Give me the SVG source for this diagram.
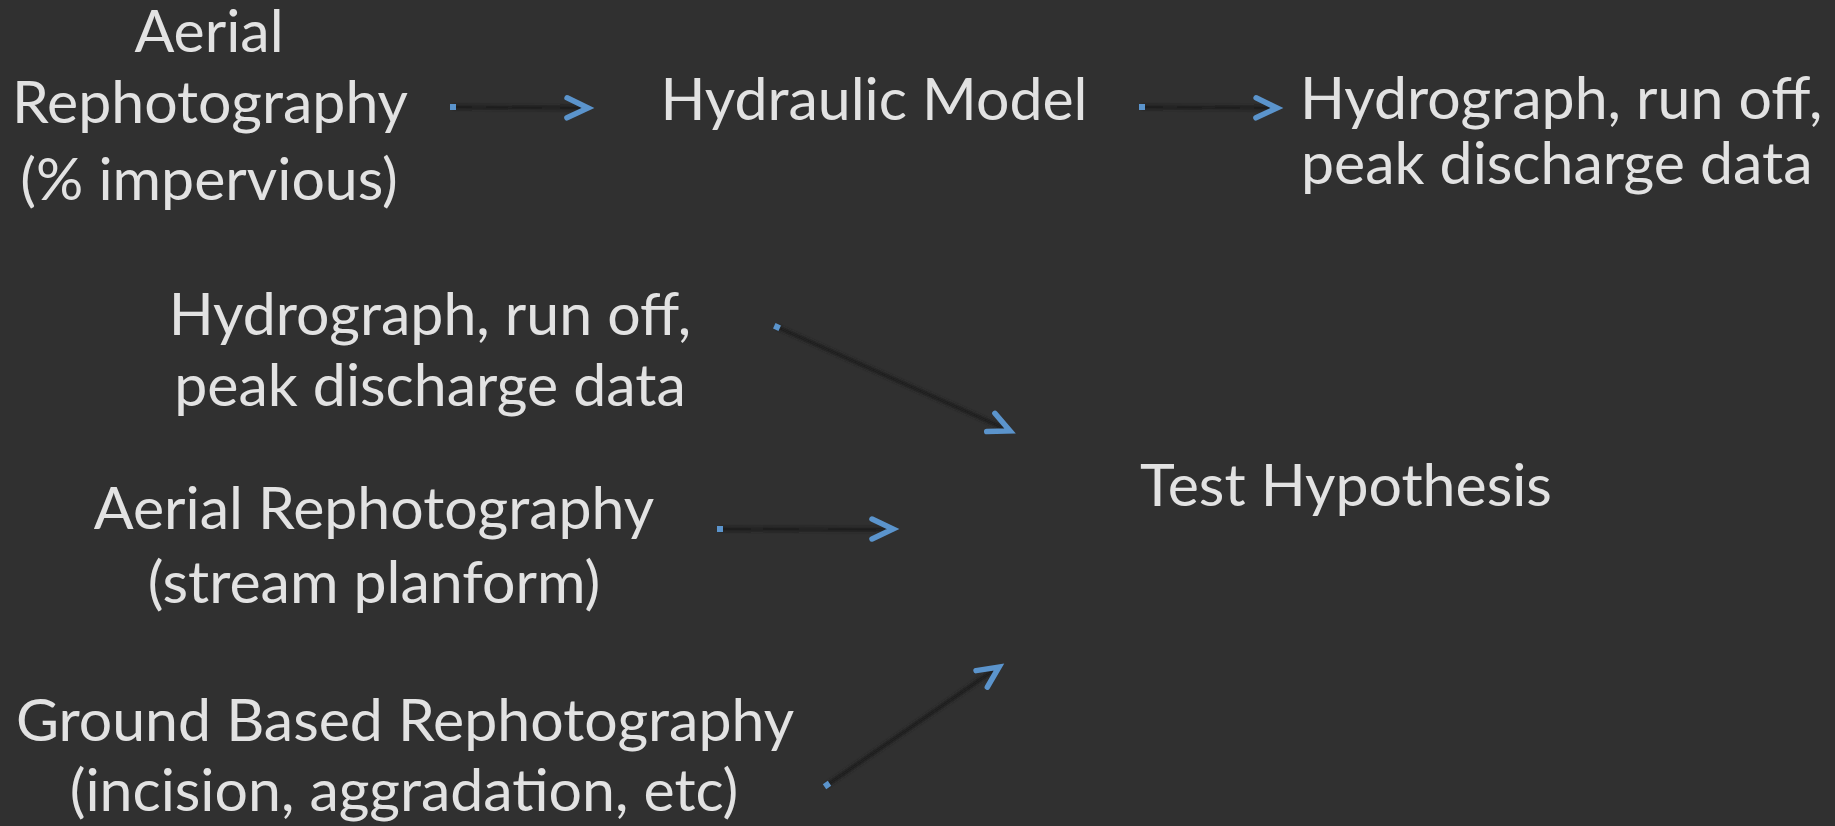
<svg xmlns="http://www.w3.org/2000/svg" width="1835" height="826" viewBox="0 0 1835 826">
  <style>
    .t { font-family: Lato, "Open Sans", "Liberation Sans", sans-serif; font-size: 59px; fill: #e2e2e2; }
    .c { text-anchor: middle; }
    .ln { stroke: #1f1f1f; stroke-width: 4; fill: none; filter: url(#sh); }
    .mk { stroke: none; fill: none; marker-start: url(#dot); marker-end: url(#chev); }
  </style>
  <defs>
    <filter id="sh" filterUnits="userSpaceOnUse" x="0" y="0" width="1835" height="826">
      <feGaussianBlur stdDeviation="1.5"/>
    </filter>
    <marker id="chev" markerUnits="userSpaceOnUse" markerWidth="40" markerHeight="40" viewBox="-30 -20 40 40" refX="0" refY="0" orient="auto" overflow="visible">
      <path d="M -21 -10 L 0 0 L -21 10" fill="none" stroke="#5b94cc" stroke-width="5.5" stroke-linecap="round" stroke-linejoin="miter"/>
    </marker>
    <marker id="dot" markerUnits="userSpaceOnUse" markerWidth="10" markerHeight="10" viewBox="-5 -5 10 10" refX="0" refY="0" orient="auto" overflow="visible">
      <rect x="-3" y="-3" width="6" height="6" fill="#5b94cc"/>
    </marker>
  </defs>
  <rect width="1835" height="826" fill="#303030"/>

  <g id="connectors">
    <path class="ln" d="M 453 107 L 586 108"/>
    <path class="mk" d="M 453 107 L 588 108"/>
    <path class="ln" d="M 1142 107 L 1275 108"/>
    <path class="mk" d="M 1142 107 L 1277 108"/>
    <path class="ln" d="M 777 327 L 1008 430"/>
    <path class="mk" d="M 777 327 L 1010 431"/>
    <path class="ln" d="M 720 529 L 891 529.5"/>
    <path class="mk" d="M 720 529 L 893 529"/>
    <path class="ln" d="M 827 785 L 997 668"/>
    <path class="mk" d="M 827 785 L 999 667"/>
  </g>

  <g id="aerial-impervious">
    <text class="t c" x="209" y="52">Aerial</text>
    <text class="t c" x="210" y="123">Rephotography</text>
    <text class="t c" x="209" y="200">(% impervious)</text>
  </g>
  <g id="hydraulic-model">
    <text class="t c" x="874" y="120">Hydraulic Model</text>
  </g>
  <g id="hydrograph-top">
    <text class="t" x="1300" y="119">Hydrograph, run off,</text>
    <text class="t" x="1301" y="184">peak discharge data</text>
  </g>
  <g id="hydrograph-mid">
    <text class="t c" x="430" y="335">Hydrograph, run off,</text>
    <text class="t c" x="430" y="406">peak discharge data</text>
  </g>
  <g id="aerial-planform">
    <text class="t c" x="374" y="529">Aerial Rephotography</text>
    <text class="t c" x="374" y="603">(stream planform)</text>
  </g>
  <g id="ground-based">
    <text class="t c" x="405" y="741">Ground Based Rephotography</text>
    <text class="t c" x="404" y="811">(incision, aggradation, etc)</text>
  </g>
  <g id="test-hypothesis">
    <text class="t c" x="1346" y="506">Test Hypothesis</text>
  </g>
</svg>
